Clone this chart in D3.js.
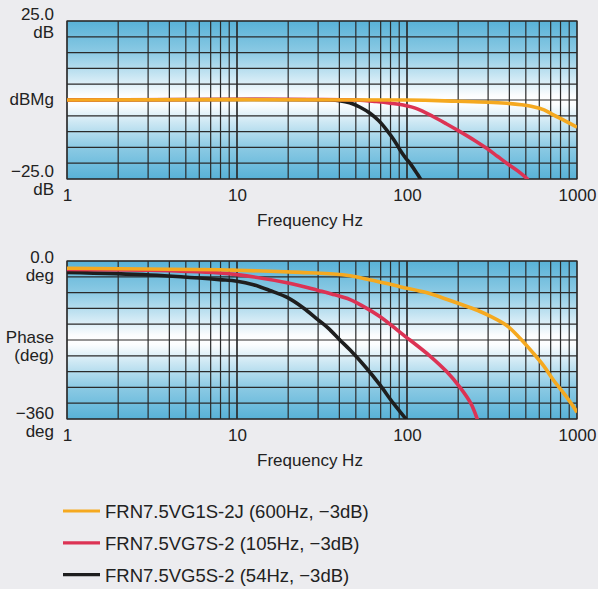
<!DOCTYPE html>
<html>
<head>
<meta charset="utf-8">
<script src="https://cdn.jsdelivr.net/npm/d3@7"></script>
<style>
  body { margin:0; background:#ececef; }
  svg { display:block; }
  text { font-family:"Liberation Sans", Arial, sans-serif; fill:#222; }
</style>
</head>
<body>
<div id="chart"></div>
<script>
// magnitude (dB) vs frequency (Hz)
var magOrange = [[1,0],[100,0],[196,-0.4],[300,-0.7],[386,-1.05],[470,-1.5],[553,-2.1],[640,-3.1],[726,-4.7],[850,-6.6],[1000,-8.6]];
var magRed = [[1,0],[50,0],[66,-0.5],[80,-1],[95,-1.6],[115,-2.8],[143,-5.3],[170,-7.5],[205,-10],[250,-12.8],[294,-15.3],[340,-17.8],[386,-20],[450,-22.5],[506,-24.8],[515,-25.3]];
var magBlack = [[1,0],[35,0],[40,-0.2],[46,-0.85],[53,-2.3],[60.6,-4.2],[68,-6.5],[76,-9.5],[84,-12.7],[91,-15.8],[98,-18.3],[104,-20],[112,-22.5],[121,-25.3]];

// phase (deg) vs frequency (Hz)
var phOrange = [[1,-16.6],[7.9,-20],[10,-21],[23.5,-26],[35,-29],[46.3,-33.5],[91,-58.5],[130,-72],[176,-89],[269,-115],[306,-125],[386,-147],[462,-176],[553,-210],[640,-240],[726,-271],[850,-305],[980,-339],[1000,-345]];
var phRed = [[1,-19],[3.08,-21],[7.9,-27.3],[10,-31],[20,-50],[30,-67],[36,-75],[46.3,-88],[54,-101],[69.5,-127],[100,-175],[104,-180],[136,-216],[171,-252],[205,-288],[237,-324],[259,-360],[262,-366]];
var phBlack = [[1,-26],[3.08,-32],[7.9,-42.5],[10,-46],[12.5,-54],[15.6,-67],[20,-84],[24.6,-107],[30,-134],[34.4,-153],[40.3,-180],[46.3,-203],[58,-245],[69.5,-283],[83,-324],[98.6,-360],[100,-364]];

var freqTicks = [1,10,100,1000];
var legendNames = ["FRN7.5VG1S-2J (600Hz, −3dB)","FRN7.5VG7S-2 (105Hz, −3dB)","FRN7.5VG5S-2 (54Hz, −3dB)"];
var colors = ["#f5a920","#dc3354","#1e1e1e"];

var W = 598, H = 589;
var svg = d3.select("#chart").append("svg").attr("width",W).attr("height",H);

var defs = svg.append("defs");
var grad = defs.append("linearGradient").attr("id","bg").attr("x1",0).attr("y1",0).attr("x2",0).attr("y2",1);
[[0,"#58b2d7"],[0.2,"#8ccae4"],[0.38,"#d6ecf6"],[0.47,"#fbfdfe"],[0.5,"#ffffff"],[0.53,"#fbfdfe"],[0.62,"#d6ecf6"],[0.8,"#8ccae4"],[1,"#58b2d7"]]
  .forEach(function(s){ grad.append("stop").attr("offset",s[0]).attr("stop-color",s[1]); });

var x = d3.scaleLog().domain([1,1000]).range([67,577]);
var vgrid = [];
[1,10,100].forEach(function(d){ for(var k=1;k<=10;k++) vgrid.push(d*k); });

function panel(top, bottom, ydom, ystep, series, id){
  var y = d3.scaleLinear().domain(ydom).range([bottom, top]);
  var g = svg.append("g");
  defs.append("clipPath").attr("id",id).append("rect")
    .attr("x",x(1)-3).attr("y",top).attr("width",x(1000)-x(1)+3).attr("height",bottom-top);
  g.append("rect").attr("x",x(1)).attr("y",top).attr("width",x(1000)-x(1)).attr("height",bottom-top)
    .attr("fill","url(#bg)");
  g.selectAll(".hg").data(d3.range(ydom[0], ydom[1]+0.001, ystep)).enter().append("line")
    .attr("x1",x(1)).attr("x2",x(1000)).attr("y1",function(d){return y(d);}).attr("y2",function(d){return y(d);})
    .attr("stroke","#2a2a2a").attr("stroke-width",1.2);
  g.selectAll(".vg").data(vgrid).enter().append("line")
    .attr("x1",function(d){return x(d);}).attr("x2",function(d){return x(d);}).attr("y1",top).attr("y2",bottom)
    .attr("stroke","#2a2a2a").attr("stroke-width",1.2);
  g.append("rect").attr("x",x(1)).attr("y",top).attr("width",x(1000)-x(1)).attr("height",bottom-top)
    .attr("fill","none").attr("stroke","#2a2a2a").attr("stroke-width",1.2);

  var line = d3.line().x(function(d){return x(d[0]);}).y(function(d){return y(d[1]);}).curve(d3.curveCatmullRom.alpha(0.5));
  var lg = g.append("g").attr("clip-path","url(#"+id+")");
  // orange drawn last so it sits on top
  [2,1,0].forEach(function(i){
    lg.append("path").datum(series[i]).attr("d",line).attr("fill","none")
      .attr("stroke",colors[i]).attr("stroke-width",3.6);
  });

  var ax = g.append("g").attr("transform","translate(0,"+bottom+")")
    .call(d3.axisBottom(x).tickValues(freqTicks).tickFormat(d3.format("d")).tickSize(0).tickPadding(10));
  ax.select(".domain").remove();
  ax.selectAll("text").attr("font-size",17).attr("font-family",null).attr("fill","#222");
  g.append("text").attr("x",310).attr("y",bottom+47).attr("text-anchor","middle").attr("font-size",17).text("Frequency Hz");
  return g;
}

var g1 = panel(21, 179, [-25,25], 5, [magOrange, magRed, magBlack], "c1");
var g2 = panel(261, 419, [-360,0], 36, [phOrange, phRed, phBlack], "c2");

function label(g, txt, yy){
  g.append("text").attr("x",54).attr("y",yy).attr("text-anchor","end").attr("font-size",17).text(txt);
}
label(g1,"25.0",20); label(g1,"dB",38); label(g1,"dBMg",105); label(g1,"−25.0",177); label(g1,"dB",195);
label(g2,"0.0",263); label(g2,"deg",281); label(g2,"Phase",343); label(g2,"(deg)",361); label(g2,"−360",419); label(g2,"deg",437);

var leg = svg.append("g");
legendNames.forEach(function(n,i){
  var yy = 518 + i*31.8;
  leg.append("line").attr("x1",63).attr("x2",100).attr("y1",yy-7).attr("y2",yy-7)
    .attr("stroke",colors[i]).attr("stroke-width",3.2);
  leg.append("text").attr("x",105).attr("y",yy).attr("font-size",18.5).text(n);
});
</script>
</body>
</html>
